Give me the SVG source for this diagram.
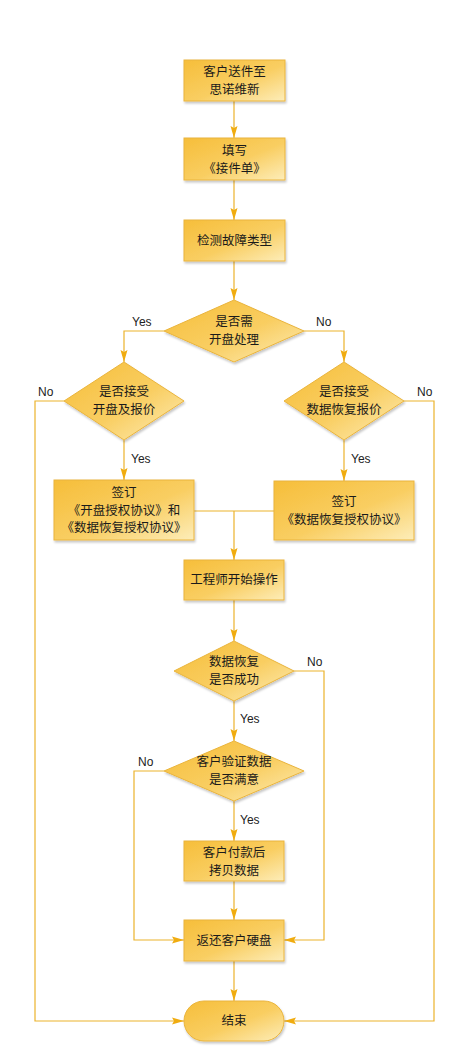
<svg xmlns="http://www.w3.org/2000/svg" width="464" height="1054" viewBox="0 0 464 1054">
<defs>
<linearGradient id="g" x1="0" y1="0" x2="1" y2="1">
<stop offset="0" stop-color="#F6BE3A"/>
<stop offset="0.55" stop-color="#F9CE62"/>
<stop offset="1" stop-color="#FDEDB9"/>
</linearGradient>
<filter id="sh" x="-10%" y="-10%" width="130%" height="140%">
<feDropShadow dx="1" dy="2" stdDeviation="1" flood-color="#000" flood-opacity="0.22"/>
</filter>
<marker id="ah" markerUnits="userSpaceOnUse" markerWidth="13" markerHeight="8" refX="12" refY="4" orient="auto">
<path d="M0,0.5 L12,4 L0,7.5 L2,4 z" fill="#F0AC10"/>
</marker>
</defs>
<style>
.n{fill:url(#g);stroke:#EAB43C;stroke-width:1;filter:url(#sh)}
.t{font-family:"Noto Sans CJK SC","Noto Sans",sans-serif;font-size:12.5px;fill:#1a1a1a;text-anchor:middle}
.l{font-family:"Liberation Sans",Arial,sans-serif;font-size:12px;fill:#222}
.c{fill:none;stroke:#ECB32C;stroke-width:1.2}
.a{marker-end:url(#ah)}
</style>
<rect width="464" height="1054" fill="#fff"/>
<g id="connectors">
<path class="c a" d="M234,101 V138"/>
<path class="c a" d="M234,180 V220"/>
<path class="c a" d="M234,261 V300"/>
<path class="c a" d="M164,331 H124 V362"/>
<path class="c a" d="M304,331 H344 V362"/>
<path class="c a" d="M124,440 V480"/>
<path class="c a" d="M344,440 V481"/>
<path class="c a" d="M64,401 H35 V1021 H184"/>
<path class="c a" d="M404,401 H434 V1021 H284"/>
<path class="c" d="M194,511 H274"/>
<path class="c a" d="M234,511 V560"/>
<path class="c a" d="M234,600 V641"/>
<path class="c a" d="M234,701 V741"/>
<path class="c a" d="M294,671 H324 V940 H284"/>
<path class="c a" d="M234,801 V841"/>
<path class="c a" d="M164,771 H134 V940 H184"/>
<path class="c a" d="M234,881 V920"/>
<path class="c a" d="M234,961 V1001"/>
<text class="l" x="132" y="326">Yes</text>
<text class="l" x="316" y="326">No</text>
<text class="l" x="38" y="396">No</text>
<text class="l" x="417" y="396">No</text>
<text class="l" x="131" y="463">Yes</text>
<text class="l" x="351" y="463">Yes</text>
<text class="l" x="307" y="666">No</text>
<text class="l" x="240" y="723">Yes</text>
<text class="l" x="138" y="766">No</text>
<text class="l" x="240" y="824">Yes</text>
</g>
<g id="n1"><rect class="n" x="184" y="60" width="101" height="41"/><text class="t" x="234.5" y="76">客户送件至</text><text class="t" x="234.5" y="94">思诺维新</text></g>
<g id="n2"><rect class="n" x="184" y="138" width="101" height="42"/><text class="t" x="234.5" y="155">填写</text><text class="t" x="234.5" y="173">《接件单》</text></g>
<g id="n3"><rect class="n" x="184" y="220" width="101" height="41"/><text class="t" x="234.5" y="245">检测故障类型</text></g>
<g id="d1"><polygon class="n" points="234,300 304,331 234,362 164,331"/><text class="t" x="234" y="326">是否需</text><text class="t" x="234" y="344">开盘处理</text></g>
<g id="d2"><polygon class="n" points="124,362 184,401 124,440 64,401"/><text class="t" x="124" y="396">是否接受</text><text class="t" x="124" y="414">开盘及报价</text></g>
<g id="d3"><polygon class="n" points="344,362 404,401 344,440 284,401"/><text class="t" x="344" y="396">是否接受</text><text class="t" x="344" y="414">数据恢复报价</text></g>
<g id="n4"><rect class="n" x="54" y="480" width="140" height="60"/><text class="t" x="124" y="497">签订</text><text class="t" x="124" y="515">《开盘授权协议》和</text><text class="t" x="124" y="532">《数据恢复授权协议》</text></g>
<g id="n5"><rect class="n" x="274" y="481" width="140" height="59"/><text class="t" x="344" y="506">签订</text><text class="t" x="344" y="524">《数据恢复授权协议》</text></g>
<g id="n6"><rect class="n" x="184" y="560" width="100" height="40"/><text class="t" x="234" y="584">工程师开始操作</text></g>
<g id="d4"><polygon class="n" points="234,641 294,671 234,701 174,671"/><text class="t" x="234" y="666">数据恢复</text><text class="t" x="234" y="684">是否成功</text></g>
<g id="d5"><polygon class="n" points="234,741 304,771 234,801 164,771"/><text class="t" x="234" y="766">客户验证数据</text><text class="t" x="234" y="784">是否满意</text></g>
<g id="n7"><rect class="n" x="184" y="841" width="100" height="40"/><text class="t" x="234" y="857">客户付款后</text><text class="t" x="234" y="875">拷贝数据</text></g>
<g id="n8"><rect class="n" x="184" y="920" width="100" height="41"/><text class="t" x="234" y="945">返还客户硬盘</text></g>
<g id="n9"><rect class="n" x="184" y="1001" width="100" height="40" rx="20" ry="20"/><text class="t" x="234" y="1025">结束</text></g>
</svg>
